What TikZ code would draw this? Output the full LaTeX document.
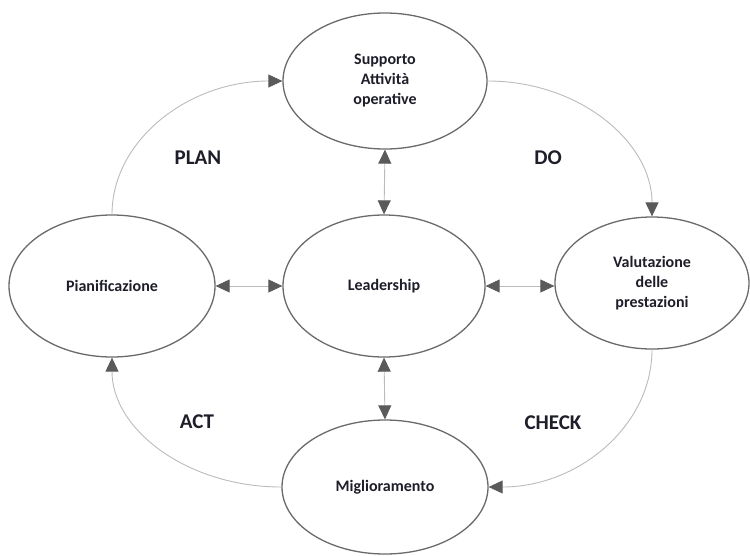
\documentclass[tikz,border=0pt]{standalone}
\usepackage{fontspec}
\setmainfont{Carlito}
\usetikzlibrary{arrows.meta,shapes.geometric}
\definecolor{edgegray}{HTML}{6A6A6A}
\definecolor{linegray}{HTML}{BBBBBB}
\definecolor{tipgray}{HTML}{5A5A5A}
\definecolor{txt}{HTML}{1E1E2A}
\begin{document}
\begin{tikzpicture}[x=1pt,y=-1pt,
  oval/.style={ellipse, draw=edgegray, line width=1.3pt, fill=white, inner sep=0pt,
    text=txt, font=\bfseries\fontsize{16}{20}\selectfont, align=center},
  conn/.style={draw=linegray, line width=0.9pt, -{Triangle[length=14pt,width=13pt,color=tipgray,fill=tipgray]}},
  both/.style={draw=linegray, line width=0.9pt, {Triangle[length=14pt,width=13pt,color=tipgray,fill=tipgray]}-{Triangle[length=14pt,width=13pt,color=tipgray,fill=tipgray]}},
  phase/.style={text=txt, font=\bfseries\fontsize{21}{25}\selectfont}]
\useasboundingbox (0,0) rectangle (750,555);

\node[oval, minimum width=204pt, minimum height=136pt] (top) at (385,81) {Supporto\\Attività\\operative};
\node[oval, minimum width=206pt, minimum height=142pt] (left) at (112,286) {Pianificazione};
\node[oval, minimum width=202pt, minimum height=142pt] (center) at (384,286) {Leadership};
\node[oval, minimum width=194pt, minimum height=132pt] (right) at (652,283) {Valutazione\\delle\\prestazioni};
\node[oval, minimum width=206pt, minimum height=134pt] (bottom) at (385,487) {Miglioramento};

\draw[both] (left.east) -- (center.west);
\draw[both] (center.east) -- (right.west |- center.east);
\draw[both] (top.south) -- (center.north);
\draw[both] (center.south) -- (bottom.north);

\draw[conn] (left.north) .. controls +(0,-74) and +(-94,0) .. (top.west);
\draw[conn] (top.east) .. controls +(92,0) and +(0,-74) .. (right.north);
\draw[conn] (right.south) .. controls +(0,76) and +(90,0) .. (bottom.east);
\draw[conn] (bottom.west) .. controls +(-94,0) and +(0,72) .. (left.south);

\node[phase] (plan) at (198,158) {PLAN};
\node[phase] (do) at (548,158) {DO};
\node[phase] (act) at (197,422) {ACT};
\node[phase] (check) at (553,423) {CHECK};
\end{tikzpicture}
\end{document}
